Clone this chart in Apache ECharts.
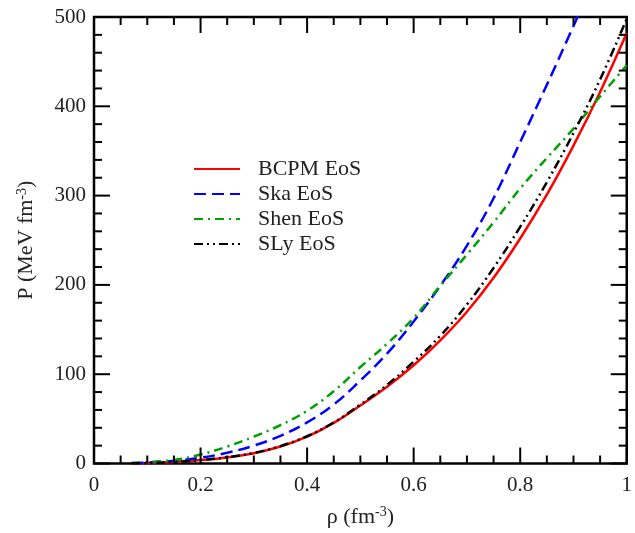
<!DOCTYPE html>
<html>
<head>
<meta charset="utf-8">
<script src="https://cdn.jsdelivr.net/npm/echarts@6/dist/echarts.min.js"></script>
<style>
  html, body { margin: 0; padding: 0; background: #fff; }
  #chart { width: 635px; height: 533px; }
</style>
</head>
<body>
<div id="chart"></div>
<script>
// Density grid (fm^-3) and pressure (MeV fm^-3) for each equation of state
const rho  = [0.07, 0.1, 0.15, 0.2, 0.25, 0.3, 0.35, 0.4, 0.45, 0.5, 0.55, 0.6, 0.65, 0.7, 0.75, 0.8, 0.85, 0.9, 0.95, 1.0];
const bcpm = [0.2, 0.5, 1.6, 3.8, 6.8, 11.5, 19, 30, 45.5, 65, 86, 110, 138, 170, 208, 252, 301, 356, 416, 482];
const ska  = [0.3, 1, 3, 6.5, 12, 20, 31, 46, 66, 93, 123, 159, 199, 244, 297, 360, 424, 490, 558, 630];
const shen = [0.5, 1.5, 4, 10, 19, 30, 43, 59, 81, 108, 134, 163, 199, 234, 270, 308, 342, 375, 411, 446];
const sly  = [0.2, 0.5, 1.6, 3.9, 7, 11.8, 19.5, 30.5, 46, 66, 88, 114, 143, 178, 219, 265, 315, 370, 430, 498];

const names  = ['BCPM EoS', 'Ska EoS', 'Shen EoS', 'SLy EoS'];
const colors = ['#ff0000', '#0000ff', '#00a000', '#000000'];
const dashes = ['solid', [12, 6], [9, 5, 2, 5], [9, 4, 2, 4, 2, 4]];
const curves = [bcpm, ska, shen, sly];

// Tick positions on the frame (all four sides carry ticks, pointing inward)
const xMajorTicks = [0, 0.2, 0.4, 0.6, 0.8, 1];
const xMinorTicks = [0.05, 0.1, 0.15, 0.25, 0.3, 0.35, 0.45, 0.5, 0.55, 0.65, 0.7, 0.75, 0.85, 0.9, 0.95];
const yMajorTicks = [0, 100, 200, 300, 400, 500];
const yMinorTicks = [20, 40, 60, 80, 120, 140, 160, 180, 220, 240, 260, 280, 320, 340, 360, 380, 420, 440, 460, 480];

const X_MIN = 0, X_MAX = 1, Y_MIN = 0, Y_MAX = 500;
const pairs = vals => rho.map((r, i) => [r, vals[i]]);
const FONT = '"Liberation Serif", "Times New Roman", serif';
const TXT = '#222';
const MAJOR_LEN = 16, MINOR_LEN = 8;

// kind: 0 = x major, 1 = x minor, 2 = y major, 3 = y minor
const tickData = [].concat(
  xMajorTicks.map(v => [v, 0]),
  xMinorTicks.map(v => [v, 1]),
  yMajorTicks.map(v => [v, 2]),
  yMinorTicks.map(v => [v, 3])
);

function renderTick(params, api) {
  const v = api.value(0);
  const kind = api.value(1);
  const len = (kind === 0 || kind === 2) ? MAJOR_LEN : MINOR_LEN;
  const style = { stroke: '#000', lineWidth: 2 };
  let a, b, shapes;
  if (kind < 2) {
    a = api.coord([v, Y_MIN]);
    b = api.coord([v, Y_MAX]);
    shapes = [
      { x1: a[0], y1: a[1], x2: a[0], y2: a[1] - len },
      { x1: b[0], y1: b[1], x2: b[0], y2: b[1] + len }
    ];
  } else {
    a = api.coord([X_MIN, v]);
    b = api.coord([X_MAX, v]);
    shapes = [
      { x1: a[0], y1: a[1], x2: a[0] + len, y2: a[1] },
      { x1: b[0], y1: b[1], x2: b[0] - len, y2: b[1] }
    ];
  }
  return {
    type: 'group',
    children: shapes.map(s => ({ type: 'line', shape: s, style: style }))
  };
}

const chart = echarts.init(document.getElementById('chart'), null, { renderer: 'canvas' });

chart.setOption({
  backgroundColor: '#fff',
  animation: false,
  grid: { left: 94, right: 5, top: 17, bottom: 67, containLabel: false,
          show: true, borderColor: '#000', borderWidth: 2.5, backgroundColor: 'transparent' },
  legend: {
    orient: 'vertical',
    left: 193,
    top: 158,
    padding: 0,
    itemWidth: 46,
    itemHeight: 14,
    itemGap: 3,
    data: names,
    itemStyle: { opacity: 0 },
    textStyle: { fontFamily: FONT, fontSize: 22, color: TXT, lineHeight: 22, padding: [0, 0, 0, 13] }
  },
  xAxis: {
    type: 'value', min: X_MIN, max: X_MAX, interval: 0.2,
    axisLine: { show: false },
    axisTick: { show: false },
    splitLine: { show: false },
    name: 'ρ (fm{s|-3})', nameLocation: 'middle', nameGap: 42,
    nameTextStyle: { fontFamily: FONT, fontSize: 22, color: TXT,
      rich: { s: { fontFamily: FONT, fontSize: 14, color: TXT, padding: [0, 0, 9, 0] } } },
    axisLabel: { fontFamily: FONT, fontSize: 21, color: TXT, margin: 11 }
  },
  yAxis: {
    type: 'value', min: Y_MIN, max: Y_MAX, interval: 100,
    axisLine: { show: false },
    axisTick: { show: false },
    splitLine: { show: false },
    name: 'P (MeV fm{s|-3})', nameLocation: 'middle', nameGap: 56, nameRotate: 90,
    nameTextStyle: { fontFamily: FONT, fontSize: 22, color: TXT,
      rich: { s: { fontFamily: FONT, fontSize: 14, color: TXT, padding: [0, 0, 9, 0] } } },
    axisLabel: { fontFamily: FONT, fontSize: 21, color: TXT, margin: 8 }
  },
  series: names.map((n, k) => ({
    name: n,
    type: 'line',
    data: pairs(curves[k]),
    smooth: 0.4,
    symbol: 'none',
    clip: true,
    z: 2,
    lineStyle: { color: colors[k], width: 2.5, type: dashes[k] },
    itemStyle: { color: colors[k] }
  })).concat([{
    name: 'frame ticks',
    type: 'custom',
    data: tickData,
    renderItem: renderTick,
    silent: true,
    clip: false,
    z: 3
  }])
});
</script>
</body>
</html>
